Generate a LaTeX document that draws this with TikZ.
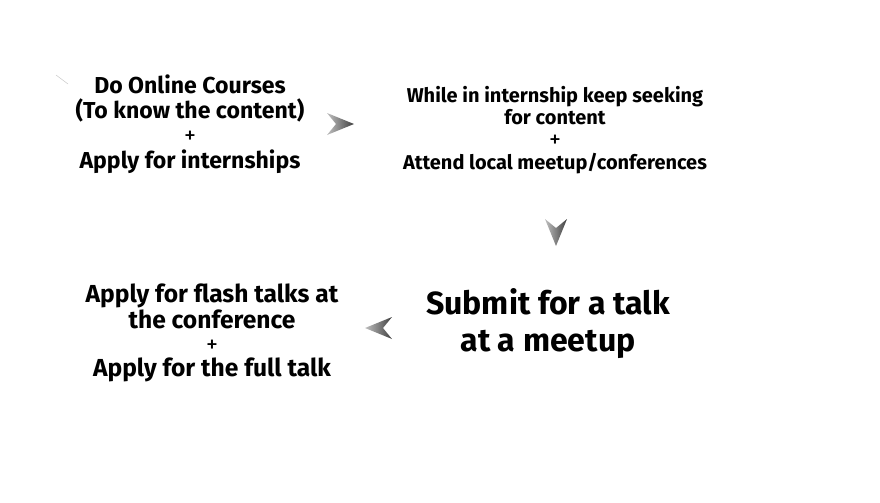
\documentclass[tikz,border=0pt]{standalone}
\usepackage{fontspec}
\setmainfont{Fira Sans}
\begin{document}
\tikzset{
  stepfont/.style={align=center, font=\bfseries\fontsize{16.4}{17.8}\selectfont},
  bigfont/.style={align=center, font=\bfseries\fontsize{22.8}{26.3}\selectfont},
  chevron/.pic={\shade[left color=gray!50, right color=black!75]
    (-14,-11) -- (13,0) -- (-14,11) -- (-5,0) -- cycle;}
}
\newcommand{\plusline}{{\fontsize{17}{17.8}\selectfont\mdseries +}}
\begin{tikzpicture}[x=0.025cm, y=-0.025cm]
\useasboundingbox (0,0) rectangle (880,502);
\draw[gray!40] (56,75) -- (68,84);

\node(Courses)[stepfont] at (190,124) {Do Online Courses\\(To know the content)\\\plusline\\Apply for internships};
\node(Seek)[stepfont, font=\bfseries\fontsize{14.2}{16}\selectfont] at (555,130) {While in internship keep seeking\\for content\\\plusline\\Attend local meetup/conferences};
\node(Submit)[bigfont] at (548,324) {Submit for a talk\\at a meetup};
\node(Flash)[stepfont, font=\bfseries\fontsize{17.5}{17}\selectfont] at (212,333) {Apply for flash talks at\\the conference\\\plusline\\Apply for the full talk};

\path (341,124) pic {chevron};
\path (556,233) pic[rotate=-90] {chevron};
\path (378,328) pic[rotate=180] {chevron};
\end{tikzpicture}
\end{document}
